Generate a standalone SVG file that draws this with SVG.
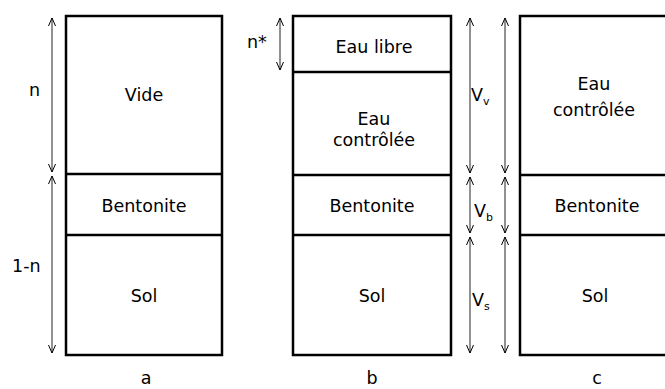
<svg xmlns="http://www.w3.org/2000/svg" width="665" height="389" viewBox="0 0 665 389">
<style>
.box{fill:#fff;stroke:#000;stroke-width:2.5}
.div{stroke:#000;stroke-width:2.5}
text{font-family:"DejaVu Sans",Verdana,sans-serif;font-size:17.5px;fill:#000}
.c{text-anchor:middle}
.sub{font-size:11px}
.dim{stroke:#222;stroke-width:1;fill:none;marker-start:url(#ah);marker-end:url(#ah)}
</style>
<defs>
<marker id="ah" viewBox="0 0 10 10" refX="10" refY="5" markerWidth="10" markerHeight="10" markerUnits="userSpaceOnUse" orient="auto-start-reverse">
<path d="M2,1.5 L10,5 L2,8.5" fill="none" stroke="#000" stroke-width="1"/>
</marker>
</defs>
<g id="column-a">
<rect class="box" x="66" y="16" width="156" height="339"/>
<line class="div" x1="66" y1="174" x2="222" y2="174"/>
<line class="div" x1="66" y1="235" x2="222" y2="235"/>
<text class="c" x="144" y="101">Vide</text>
<text class="c" x="144" y="212">Bentonite</text>
<text class="c" x="144" y="302">Sol</text>
<text class="c" x="146" y="384">a</text>
<text x="29" y="96">n</text>
<text x="12" y="272">1-n</text>
</g>
<g id="column-b">
<rect class="box" x="293" y="16" width="158" height="339"/>
<line class="div" x1="293" y1="72" x2="451" y2="72"/>
<line class="div" x1="293" y1="175" x2="451" y2="175"/>
<line class="div" x1="293" y1="235" x2="451" y2="235"/>
<text class="c" x="374" y="53">Eau libre</text>
<text class="c" x="374" y="125">Eau</text>
<text class="c" x="374" y="146">contrôlée</text>
<text class="c" x="372" y="212">Bentonite</text>
<text class="c" x="372" y="302">Sol</text>
<text class="c" x="372" y="384">b</text>
<text x="247" y="48">n*</text>
</g>
<g id="column-c">
<rect class="box" x="520" y="16" width="155" height="339"/>
<line class="div" x1="520" y1="175" x2="675" y2="175"/>
<line class="div" x1="520" y1="235" x2="675" y2="235"/>
<text class="c" x="594" y="90">Eau</text>
<text class="c" x="594" y="116">contrôlée</text>
<text class="c" x="597" y="212">Bentonite</text>
<text class="c" x="595" y="302">Sol</text>
<text class="c" x="597" y="384">c</text>
</g>
<g id="labels-v">
<text x="471" y="101">V<tspan class="sub" dy="4">v</tspan></text>
<text x="474" y="217">V<tspan class="sub" dy="4">b</tspan></text>
<text x="472" y="306">V<tspan class="sub" dy="4">s</tspan></text>
</g>
<g id="connectors">
<line class="dim" x1="52" y1="18" x2="52" y2="172"/>
<line class="dim" x1="52" y1="176" x2="52" y2="353"/>
<line class="dim" x1="280" y1="18" x2="280" y2="70"/>
<line class="dim" x1="470" y1="18" x2="470" y2="173"/>
<line class="dim" x1="470" y1="177" x2="470" y2="233"/>
<line class="dim" x1="470" y1="237" x2="470" y2="353"/>
<line class="dim" x1="505" y1="18" x2="505" y2="173"/>
<line class="dim" x1="505" y1="177" x2="505" y2="233"/>
<line class="dim" x1="505" y1="237" x2="505" y2="353"/>
</g>
</svg>
